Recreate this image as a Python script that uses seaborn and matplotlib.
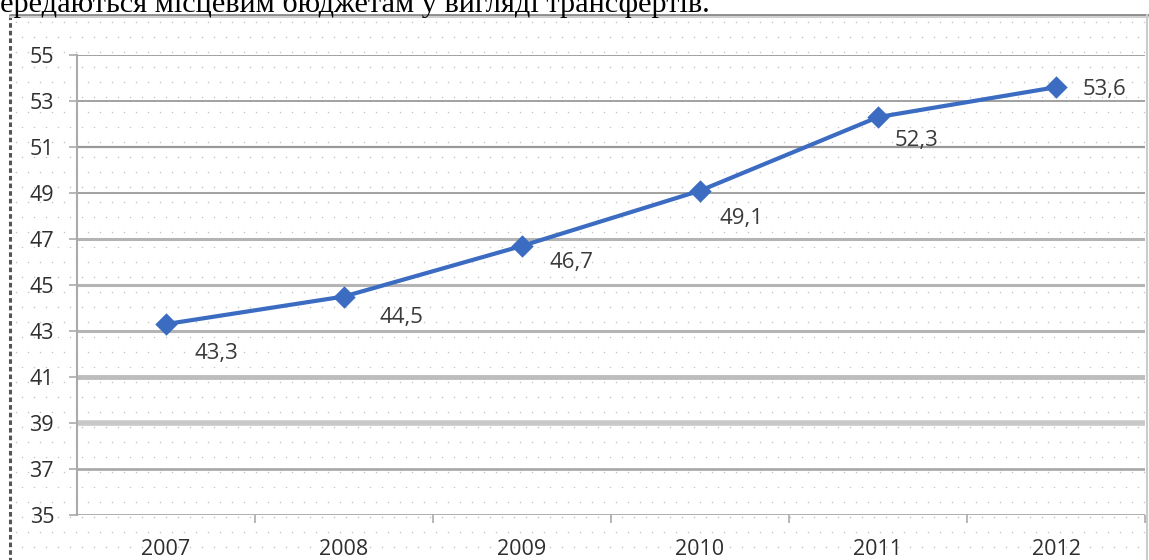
import numpy as np
import matplotlib
matplotlib.use("Agg")
import matplotlib.pyplot as plt
import seaborn as sns

# Chart data
years = ["2007", "2008", "2009", "2010", "2011", "2012"]
values = [43.3, 44.5, 46.7, 49.1, 52.3, 53.6]
value_labels = ["43,3", "44,5", "46,7", "49,1", "52,3", "53,6"]
y_ticks = [35, 37, 39, 41, 43, 45, 47, 49, 51, 53, 55]
caption = "передаються місцевим бюджетам у вигляді трансфертів."

# Label placement (pixel offsets from each point)
label_offsets = [(50, -29), (57, -21), (50, -17), (41, -28), (38, -23), (49, -2)]

sns.set_theme(style="white")
plt.rcParams["font.family"] = ["Open Sans", "DejaVu Sans"]

W, H = 1149, 560
fig = plt.figure(figsize=(W / 100, H / 100), dpi=100)
fig.patch.set_facecolor("white")

# Background layer: dotted texture, frame and caption line
bg = fig.add_axes([0, 0, 1, 1], zorder=0)
bg.set_xlim(0, W)
bg.set_ylim(H, 0)
bg.axis("off")
gx, gy = [], []
for r, yy in enumerate(np.arange(22, H, 15)):
    shift = 0 if r % 2 == 0 else 6
    for xx in np.arange(16 + shift, W, 12):
        gx.append(xx)
        gy.append(yy)
bg.scatter(gx, gy, s=1.2, color="#c4c4c4", linewidths=0)
bg.plot([10, 10], [15, H], color="#555555", lw=2.2, ls=(0, (1.5, 1)))
bg.plot([10, W], [15, 15], color="#8a8a8a", lw=2.0)
bg.plot([10, W], [17, 17], color="#d0d0d0", lw=1.5)
bg.plot([W - 2, W - 2], [15, H], color="#cccccc", lw=1.5)
bg.text(-16, 12, caption, fontfamily=["Liberation Serif"], fontsize=21.8,
        color="black", va="baseline", ha="left")

# Plot area
ax = fig.add_axes([77 / W, 1 - 515 / H, (1145 - 77) / W, 460 / H], zorder=1)
ax.set_facecolor("none")

grid_styles = {
    35: ("#a8a8a8", 2.0), 37: ("#aaaaaa", 2.0), 39: ("#c8c8c8", 4.0),
    41: ("#bdbdbd", 3.5), 43: ("#b4b4b4", 2.2), 45: ("#b4b4b4", 2.2),
    47: ("#b4b4b4", 2.2), 49: ("#9a9a9a", 1.3), 51: ("#9a9a9a", 1.6),
    53: ("#9a9a9a", 1.3), 55: ("#9a9a9a", 1.3),
}
for v in y_ticks:
    c, lw = grid_styles[v]
    ax.axhline(v, color=c, lw=lw, zorder=1)

sns.pointplot(x=years, y=values, ax=ax, color="#3b6cc2", markers="D",
              markersize=9, linewidth=3, errorbar=None, zorder=3)

for i, (v, lab) in enumerate(zip(values, value_labels)):
    dx, dy = label_offsets[i]
    ax.annotate(lab, (i, v), xytext=(dx * 0.72, dy * 0.72),
                textcoords="offset points", ha="center", va="center",
                fontsize=16, color="#3a3a3a", zorder=4)

ax.set_xlim(-0.5, len(years) - 0.5)
ax.set_ylim(35, 55)
ax.set_yticks(y_ticks)
ax.set_yticklabels([str(t) for t in y_ticks])
ax.set_xlabel("")
ax.set_ylabel("")

ax.tick_params(axis="y", which="major", length=5.5, width=1.2, color="#aaaaaa",
               pad=11, labelsize=15.5, labelcolor="#2e2e2e", left=True)
ax.tick_params(axis="x", which="major", length=0, pad=17, labelsize=15.5,
               labelcolor="#2e2e2e")
ax.set_xticks(np.arange(0.5, len(years)), minor=True)
ax.tick_params(axis="x", which="minor", length=6, width=1.2, color="#aaaaaa",
               bottom=True, direction="out")

for side in ["top", "right"]:
    ax.spines[side].set_visible(False)
ax.spines["left"].set_color("#aaaaaa")
ax.spines["left"].set_linewidth(1.5)
ax.spines["bottom"].set_visible(False)

fig.savefig("out.png", dpi=100, facecolor="white")
